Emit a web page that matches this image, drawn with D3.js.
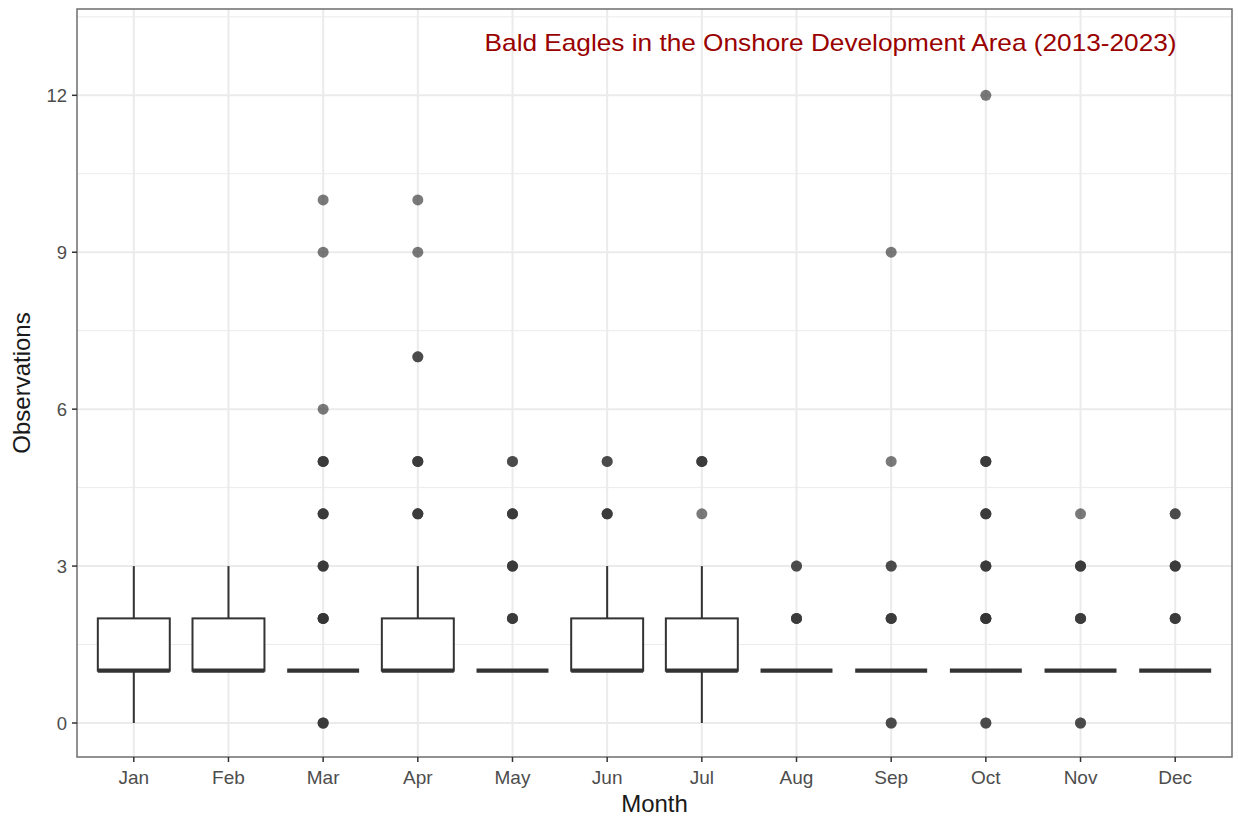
<!DOCTYPE html>
<html>
<head>
<meta charset="utf-8">
<script src="https://cdn.jsdelivr.net/npm/d3@7"></script>
<style>
  body { margin: 0; background: #fff; }
  svg { display: block; font-family: "Liberation Sans", Arial, sans-serif; }
</style>
</head>
<body>
<svg id="chart" width="1238" height="816"></svg>
<script>
// Monthly box statistics
const months = ["Jan","Feb","Mar","Apr","May","Jun","Jul","Aug","Sep","Oct","Nov","Dec"];
const q1     = [1,1,1,1,1,1,1,1,1,1,1,1];
const median = [1,1,1,1,1,1,1,1,1,1,1,1];
const q3     = [2,2,1,2,1,2,2,1,1,1,1,1];
const whiskerLow  = [0,1,1,1,1,1,0,1,1,1,1,1];
const whiskerHigh = [3,3,1,3,1,3,3,1,1,1,1,1];

// Outliers per month: [value, number of observations]
const outliers = [
  [],
  [],
  [[0,3],[2,4],[3,3],[4,3],[5,3],[6,1],[9,1],[10,1]],
  [[4,3],[5,3],[7,2],[9,1],[10,1]],
  [[2,3],[3,3],[4,3],[5,2]],
  [[4,3],[5,2]],
  [[4,1],[5,3]],
  [[2,3],[3,2]],
  [[0,2],[2,3],[3,2],[5,1],[9,1]],
  [[0,2],[2,4],[3,3],[4,3],[5,3],[12,1]],
  [[0,2],[2,3],[3,3],[4,1]],
  [[2,3],[3,3],[4,2]]
];

const yTicks = [0,3,6,9,12];
const title = "Bald Eagles in the Onshore Development Area (2013-2023)";
const titlePos = { month: 8.36, value: 13 };

const svg = d3.select("#chart");
const panel = { left: 77, top: 9, right: 1232, bottom: 757 };

// band centres follow ggplot discrete expansion (0.6 units each side)
const x = d3.scalePoint()
  .domain(months)
  .range([panel.left, panel.right])
  .padding(0.6);
const step = x.step();
const xc = i => x(months[i]);

const y = d3.scaleLinear().domain([-0.65, 13.65]).range([panel.bottom, panel.top]);

// grid
const g = svg.append("g");
const minorY = [1.5, 4.5, 7.5, 10.5, 13.5];
g.selectAll(".minor").data(minorY).join("line")
  .attr("x1", panel.left).attr("x2", panel.right)
  .attr("y1", d => y(d)).attr("y2", d => y(d))
  .attr("stroke", "#ebebeb").attr("stroke-width", 1);
g.selectAll(".majorY").data(yTicks).join("line")
  .attr("x1", panel.left).attr("x2", panel.right)
  .attr("y1", d => y(d)).attr("y2", d => y(d))
  .attr("stroke", "#ebebeb").attr("stroke-width", 2);
g.selectAll(".majorX").data(months).join("line")
  .attr("x1", d => x(d)).attr("x2", d => x(d))
  .attr("y1", panel.top).attr("y2", panel.bottom)
  .attr("stroke", "#ebebeb").attr("stroke-width", 2);

// boxes
const boxW = 0.76 * step;
const boxes = svg.append("g");
months.forEach((m, i) => {
  const cx = xc(i);
  const col = "#333333";
  if (whiskerHigh[i] > q3[i]) {
    boxes.append("line").attr("x1", cx).attr("x2", cx)
      .attr("y1", y(q3[i])).attr("y2", y(whiskerHigh[i]))
      .attr("stroke", col).attr("stroke-width", 2);
  }
  if (whiskerLow[i] < q1[i]) {
    boxes.append("line").attr("x1", cx).attr("x2", cx)
      .attr("y1", y(q1[i])).attr("y2", y(whiskerLow[i]))
      .attr("stroke", col).attr("stroke-width", 2);
  }
  if (q3[i] > q1[i]) {
    boxes.append("rect")
      .attr("x", cx - boxW / 2).attr("width", boxW)
      .attr("y", y(q3[i])).attr("height", y(q1[i]) - y(q3[i]))
      .attr("fill", "#fff").attr("stroke", col).attr("stroke-width", 2);
  }
  boxes.append("line")
    .attr("x1", cx - boxW / 2).attr("x2", cx + boxW / 2)
    .attr("y1", y(median[i])).attr("y2", y(median[i]))
    .attr("stroke", col).attr("stroke-width", 4.2);

  // outlier points, overlapping observations deepen the shade
  outliers[i].forEach(([v, n]) => {
    for (let k = 0; k < n; k++) {
      boxes.append("circle")
        .attr("cx", cx).attr("cy", y(v)).attr("r", 5.5)
        .attr("fill", "#333333").attr("fill-opacity", 0.65);
    }
  });
});

// title annotation
svg.append("text")
  .attr("x", panel.left + (0.6 + titlePos.month - 1) * step)
  .attr("y", y(titlePos.value))
  .attr("dy", "0.35em")
  .attr("text-anchor", "middle")
  .attr("fill", "#990000")
  .attr("font-size", 24)
  .attr("textLength", 692)
  .attr("lengthAdjust", "spacingAndGlyphs")
  .text(title);

// panel border
svg.append("rect")
  .attr("x", panel.left).attr("y", panel.top)
  .attr("width", panel.right - panel.left).attr("height", panel.bottom - panel.top)
  .attr("fill", "none").attr("stroke", "#6e6e6e").attr("stroke-width", 1.5);

// y axis
const yAxis = svg.append("g");
yTicks.forEach(t => {
  yAxis.append("line").attr("x1", panel.left - 5).attr("x2", panel.left)
    .attr("y1", y(t)).attr("y2", y(t)).attr("stroke", "#333").attr("stroke-width", 1.5);
  yAxis.append("text").attr("x", panel.left - 10).attr("y", y(t)).attr("dy", "0.36em")
    .attr("text-anchor", "end").attr("fill", "#4d4d4d").attr("font-size", 18.5).text(t);
});

// x axis
const xAxis = svg.append("g");
months.forEach((m, i) => {
  xAxis.append("line").attr("x1", xc(i)).attr("x2", xc(i))
    .attr("y1", panel.bottom).attr("y2", panel.bottom + 5)
    .attr("stroke", "#333").attr("stroke-width", 1.5);
  xAxis.append("text").attr("x", xc(i)).attr("y", panel.bottom + 20).attr("dy", "0.35em")
    .attr("text-anchor", "middle").attr("fill", "#4d4d4d").attr("font-size", 19).text(m);
});

// axis titles
svg.append("text")
  .attr("x", (panel.left + panel.right) / 2).attr("y", 804).attr("dy", "0.35em")
  .attr("text-anchor", "middle").attr("fill", "#1a1a1a").attr("font-size", 24).text("Month");
svg.append("text")
  .attr("transform", `translate(22, ${(panel.top + panel.bottom) / 2}) rotate(-90)`)
  .attr("dy", "0.35em")
  .attr("text-anchor", "middle").attr("fill", "#1a1a1a").attr("font-size", 24).text("Observations");
</script>
</body>
</html>
